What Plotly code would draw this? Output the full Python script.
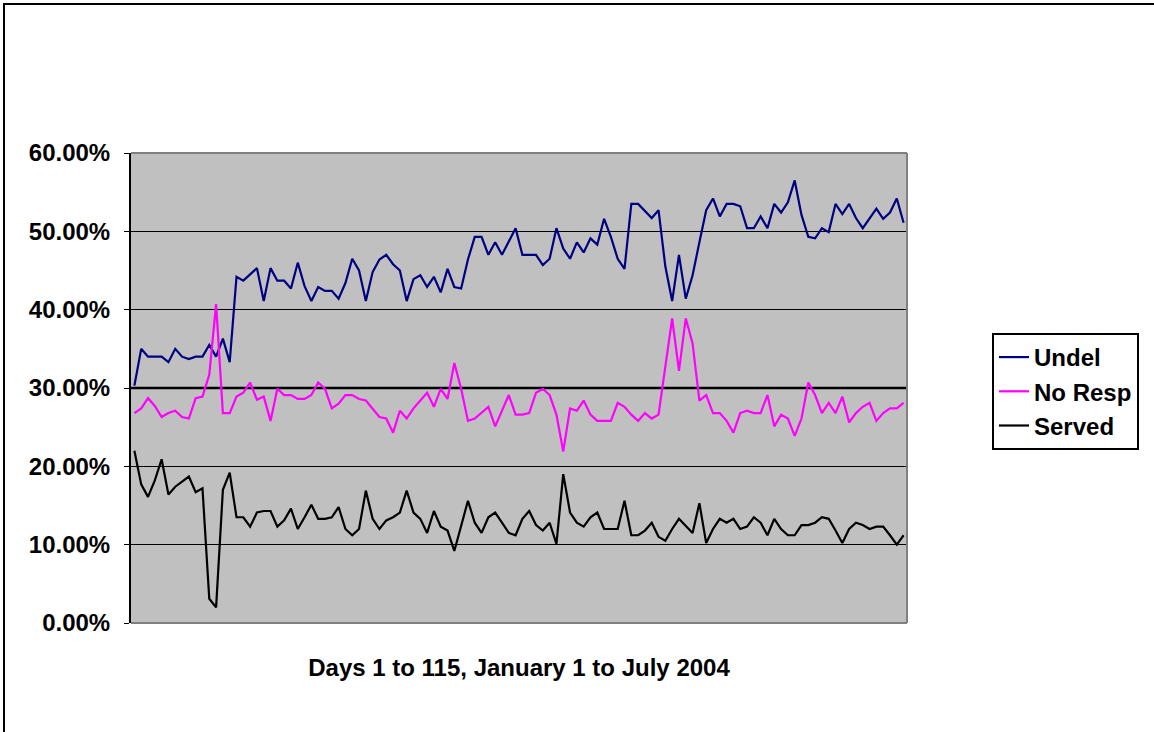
import plotly.graph_objects as go

# ---------------- data (percent values) ----------------
days = list(range(1, 115))

undel = [30.3, 35.0, 34.0, 34.0, 34.0, 33.3, 35.0, 34.0, 33.7, 34.0,
         34.0, 35.5, 34.0, 36.3, 33.3, 44.2, 43.7, 44.5, 45.3, 41.1,
         45.3, 43.7, 43.7, 42.7, 46.0, 43.0, 41.1, 42.9, 42.4, 42.4,
         41.4, 43.4, 46.5, 45.0, 41.1, 44.8, 46.4, 47.0, 45.8, 45.0,
         41.1, 43.9, 44.4, 42.9, 44.2, 42.2, 45.2, 42.9, 42.7, 46.4,
         49.3, 49.3, 47.0, 48.6, 47.0, 48.7, 50.4, 47.0, 47.0, 47.0,
         45.7, 46.5, 50.4, 47.8, 46.5, 48.6, 47.3, 49.1, 48.3, 51.6,
         49.3, 46.5, 45.2, 53.5, 53.5, 52.6, 51.7, 52.7, 45.5, 41.1,
         47.0, 41.4, 44.4, 48.6, 52.7, 54.2, 51.9, 53.5, 53.5, 53.2,
         50.4, 50.4, 51.9, 50.4, 53.5, 52.4, 53.7, 56.5, 52.1, 49.3,
         49.1, 50.4, 49.9, 53.5, 52.2, 53.5, 51.7, 50.4, 51.6, 52.9,
         51.6, 52.4, 54.2, 51.1]

no_resp = [26.8, 27.4, 28.7, 27.7, 26.3, 26.8, 27.1, 26.3, 26.1, 28.7,
           28.9, 31.7, 40.7, 26.8, 26.8, 28.9, 29.4, 30.7, 28.5, 28.9,
           25.8, 29.9, 29.1, 29.1, 28.6, 28.6, 29.1, 30.7, 29.9, 27.4,
           28.0, 29.1, 29.1, 28.6, 28.4, 27.3, 26.3, 26.1, 24.3, 27.1,
           26.1, 27.4, 28.4, 29.4, 27.6, 29.9, 28.6, 33.2, 29.9, 25.8,
           26.1, 26.8, 27.6, 25.1, 27.1, 29.1, 26.6, 26.6, 26.8, 29.4,
           29.9, 29.1, 26.6, 21.9, 27.4, 27.1, 28.4, 26.6, 25.8, 25.8,
           25.8, 28.1, 27.6, 26.6, 25.8, 26.8, 26.1, 26.6, 32.8, 38.9,
           32.2, 38.9, 35.7, 28.4, 29.1, 26.8, 26.8, 25.8, 24.3, 26.8,
           27.1, 26.8, 26.8, 29.1, 25.1, 26.6, 26.1, 23.9, 26.1, 30.7,
           29.1, 26.8, 28.1, 26.8, 28.9, 25.6, 26.8, 27.6, 28.1, 25.8,
           26.8, 27.4, 27.4, 28.1]

served = [22.0, 17.7, 16.1, 18.2, 20.9, 16.4, 17.4, 18.1, 18.7, 16.7,
          17.2, 3.1, 2.0, 17.0, 19.2, 13.5, 13.5, 12.3, 14.1, 14.3,
          14.3, 12.3, 13.1, 14.6, 12.0, 13.5, 15.1, 13.3, 13.3, 13.5,
          14.8, 12.0, 11.2, 12.0, 16.9, 13.3, 12.0, 13.1, 13.5, 14.1,
          16.9, 14.1, 13.3, 11.5, 14.3, 12.3, 11.8, 9.2, 12.4, 15.6,
          12.8, 11.5, 13.5, 14.1, 12.8, 11.5, 11.2, 13.3, 14.3, 12.5,
          11.8, 12.8, 10.1, 19.0, 14.1, 12.8, 12.3, 13.5, 14.1, 12.0,
          12.0, 12.0, 15.6, 11.2, 11.2, 11.8, 12.8, 11.0, 10.5, 12.0,
          13.3, 12.4, 11.5, 15.3, 10.2, 12.0, 13.3, 12.8, 13.3, 12.0,
          12.3, 13.5, 12.8, 11.2, 13.3, 12.0, 11.2, 11.2, 12.5, 12.5,
          12.8, 13.5, 13.3, 11.8, 10.2, 12.0, 12.8, 12.5, 12.0, 12.3,
          12.3, 11.2, 10.0, 11.2]

series_names = ["Undel", "No Resp", "Served"]
series_colors = ["#000080", "#FF00FF", "#000000"]
x_title = "Days 1 to 115, January 1 to July 2004"
threshold = 0.30

# ---------------- figure ----------------
W, H = 1154, 732
L, R, T, B = 131, 907, 153, 623
FONT = "Liberation Sans, Arial, sans-serif"
FS = 24

fig = go.Figure()
for name, vals, col in zip(series_names, [undel, no_resp, served], series_colors):
    fig.add_trace(go.Scatter(
        x=days, y=[v / 100 for v in vals], mode="lines", name=name,
        legendgroup=name,
        line=dict(color=col, width=2.2),
    ))

pw, ph = R - L, B - T
def px(x):
    return (x - L) / pw
def py(y):
    return (B - y) / ph

shapes = [
    # thick 30% line
    dict(type="line", xref="paper", yref="y", x0=0, x1=1, y0=threshold, y1=threshold,
         line=dict(color="black", width=2.5), layer="between"),
    # grey plot frame (top, right, bottom)
    dict(type="line", xref="paper", yref="paper", x0=0, x1=1, y0=1, y1=1,
         line=dict(color="#808080", width=2), layer="above"),
    dict(type="line", xref="paper", yref="paper", x0=1, x1=1, y0=0, y1=1,
         line=dict(color="#808080", width=2), layer="above"),
    dict(type="line", xref="paper", yref="paper", x0=0, x1=1, y0=0, y1=0,
         line=dict(color="#808080", width=2), layer="above"),
    # page frame
    dict(type="rect", xref="paper", yref="paper", x0=px(4), x1=px(1170), y0=py(4), y1=py(750),
         line=dict(color="black", width=2), fillcolor="rgba(0,0,0,0)", layer="above"),
]

bold = dict(family=FONT, size=FS, color="black", weight="bold")

fig.update_layout(
    width=W, height=H, autosize=False,
    margin=dict(l=L, r=W - R, t=T, b=H - B, pad=0),
    paper_bgcolor="white", plot_bgcolor="#C0C0C0",
    font=bold,
    showlegend=True,
    legend=dict(
        x=px(992), y=py(333), xanchor="left", yanchor="top",
        bgcolor="white", bordercolor="black", borderwidth=2,
        font=bold, tracegroupgap=0, itemwidth=30,
    ),
    shapes=shapes,
    xaxis=dict(
        range=[0.5, 114.5], showgrid=False, zeroline=False, showline=False,
        showticklabels=False, ticks="", fixedrange=True,
        title=dict(text=x_title, standoff=36, font=bold),
    ),
    yaxis=dict(
        range=[0, 0.6], tick0=0, dtick=0.1, tickformat=".2%",
        showgrid=True, gridcolor="black", gridwidth=1, zeroline=False,
        showline=True, linecolor="black", linewidth=2,
        ticks="outside", ticklen=5, tickwidth=1, tickcolor="black",
        ticklabelstandoff=9, tickfont=bold, fixedrange=True,
    ),
)

fig.write_html("out.html", config={"displayModeBar": False},
               post_script="document.body.style.margin='0';")
